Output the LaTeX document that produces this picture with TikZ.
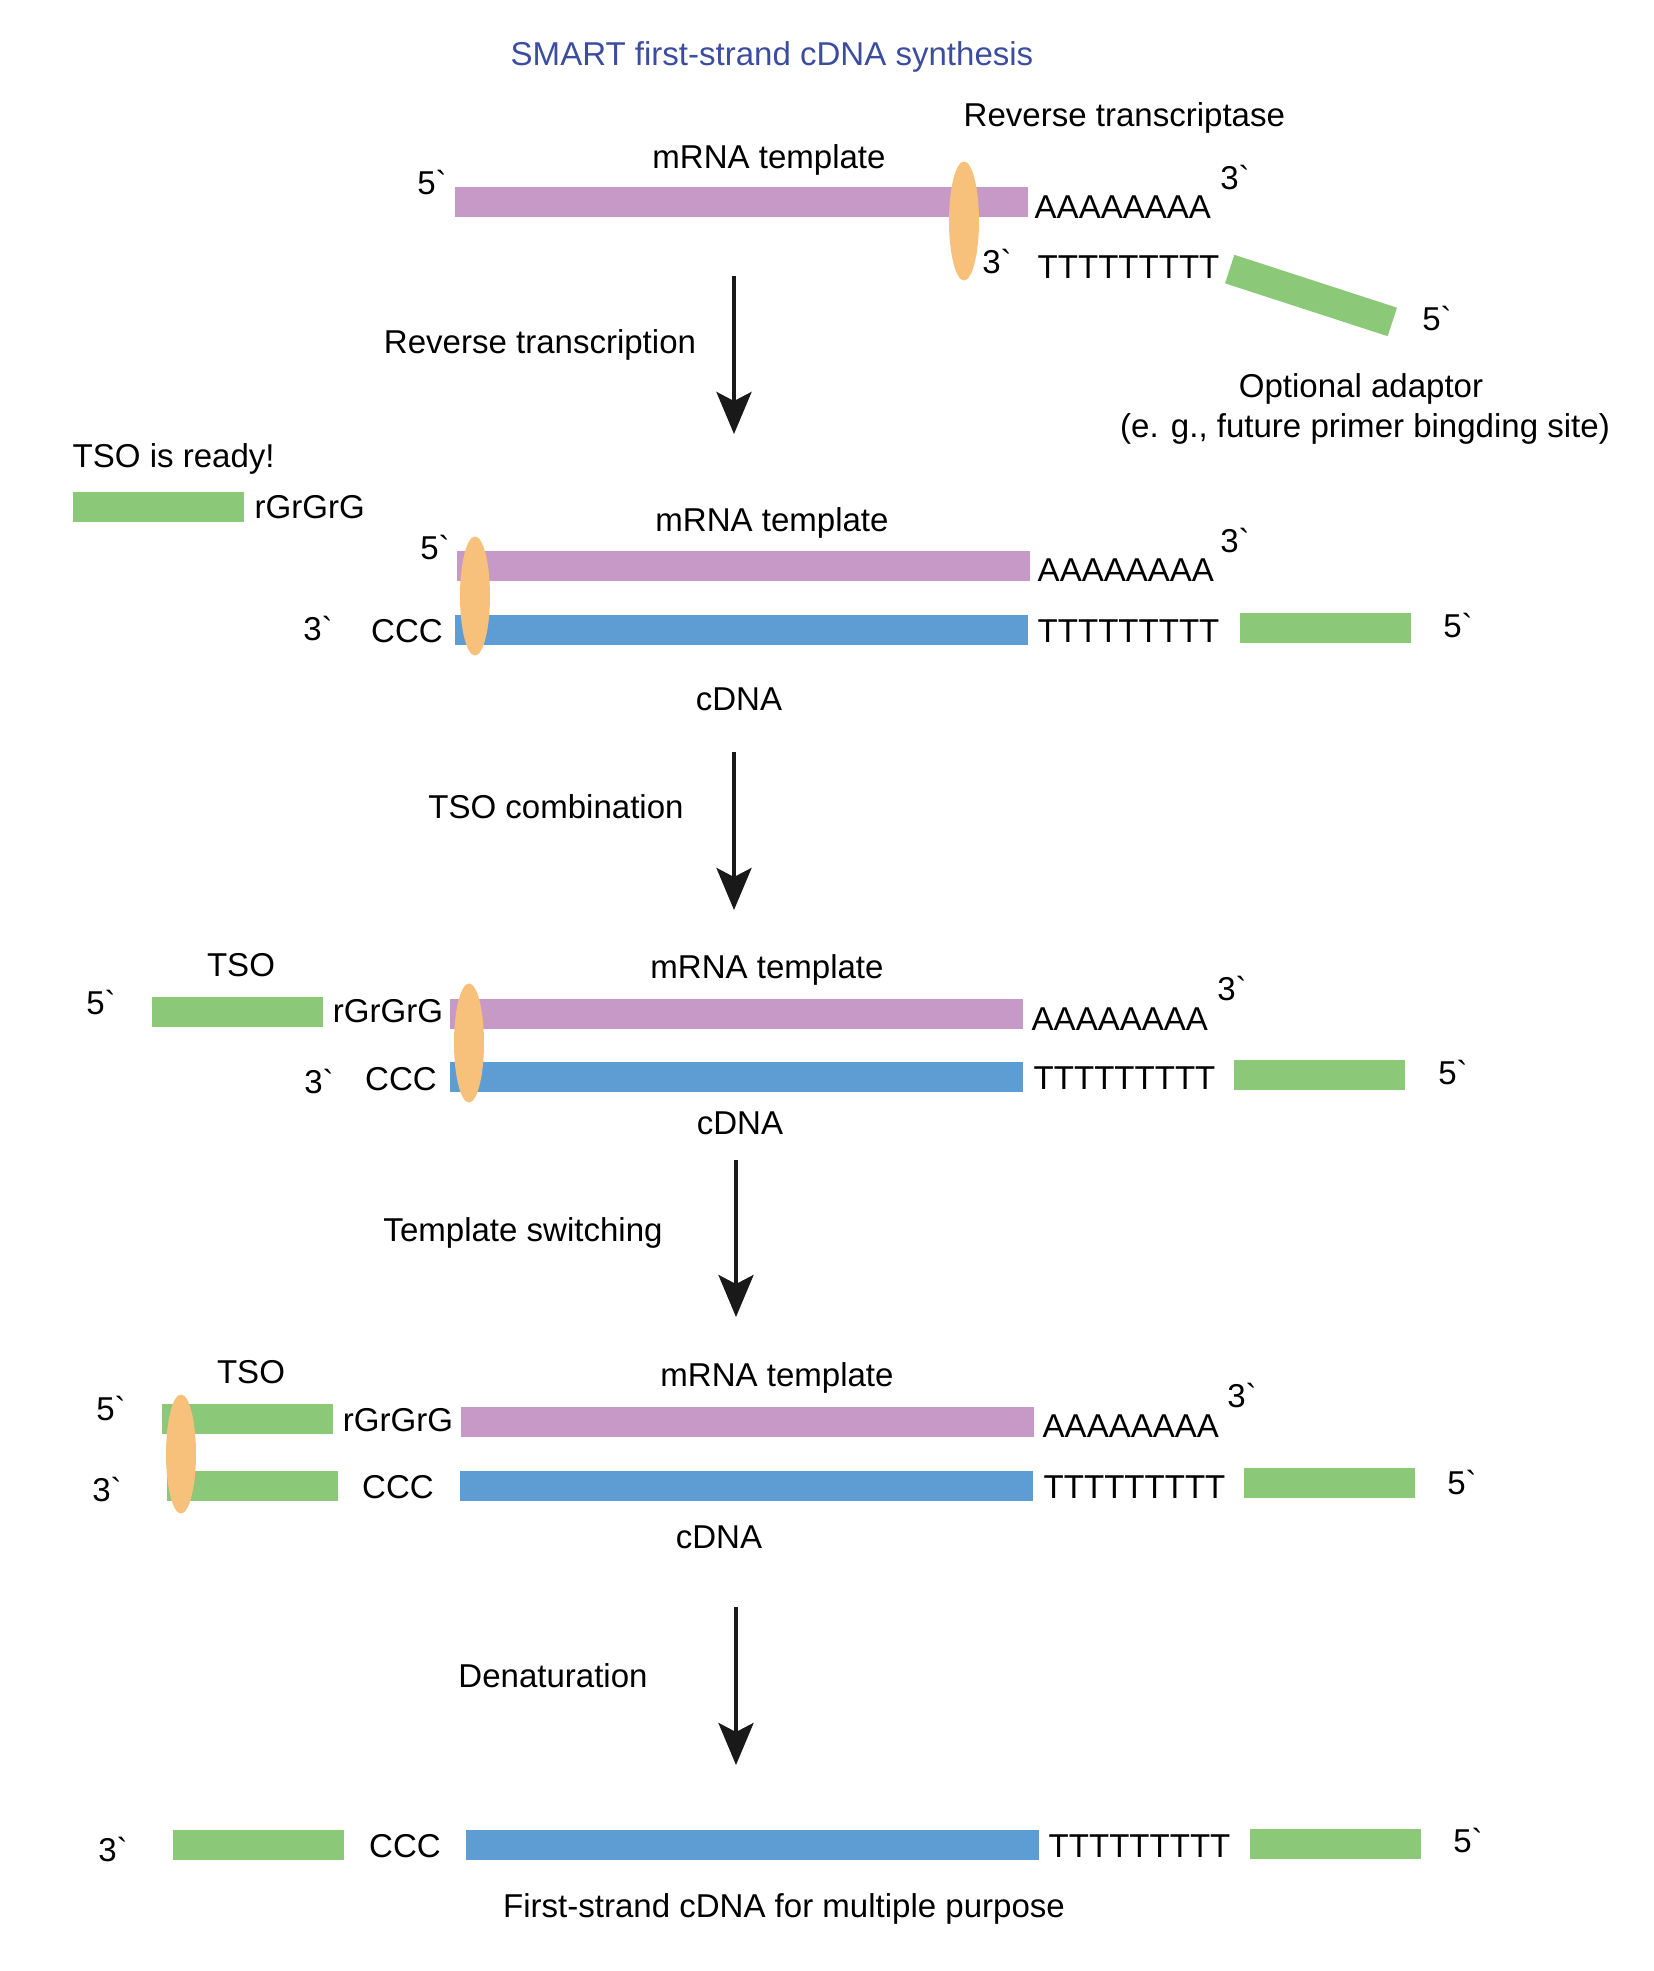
\documentclass[tikz,border=0pt]{standalone}
\usepackage{fontspec}
\newfontfamily\diagfont{Liberation Sans}[Ligatures=TeXOff]
\usepackage{xcolor}
\usepackage{tikz}
\usetikzlibrary{shapes.geometric,arrows.meta,positioning}

\definecolor{mrnapurple}{HTML}{C799C6}
\definecolor{cdnablue}{HTML}{5E9DD3}
\definecolor{adaptgreen}{HTML}{8BC878}
\definecolor{rtorange}{HTML}{F7C07B}
\definecolor{titleblue}{HTML}{3C4DA0}

\begin{document}
\begin{tikzpicture}[
    font=\diagfont\fontsize{9.4}{11.3}\selectfont,
    strand/.style={rectangle, inner sep=0pt, minimum height=0.30cm, anchor=west},
    mrna/.style={strand, fill=mrnapurple, minimum width=5.73cm},
    cdna/.style={strand, fill=cdnablue, minimum width=5.73cm},
    adaptor/.style={strand, fill=adaptgreen, minimum width=1.71cm},
    enzyme/.style={ellipse, fill=rtorange, inner sep=0pt, minimum width=0.30cm, minimum height=1.19cm},
    txt/.style={inner sep=0pt, anchor=base},
    txtw/.style={inner sep=0pt, anchor=base west},
    steparrow/.style={-{Stealth[length=4.2mm, width=3.5mm, inset=0.9mm]}, line width=1.15pt, black!90}
]
\useasboundingbox (0,0) rectangle (16.54,-19.71);

% === Title ===
\node[txt, text=titleblue] (title) at (7.72,-0.65) {SMART first-strand cDNA synthesis};

% === Step 1: primer on the poly(A) tail ===
\node[txtw] (rtname) at (9.63,-1.26) {Reverse transcriptase};
\node[txt] (mlab1) at (7.69,-1.68) {mRNA template};
\node[txt] (m5a) at (4.32,-1.94) {5`};
\node[mrna] (m1) at (4.54,-2.02) {};
\node[txtw] (polya1) at (10.34,-2.18) {AAAAAAAA};
\node[txt] (m3a) at (12.35,-1.89) {3`};
\node[txtw] (polyt1) at (10.37,-2.78) {TTTTTTTTT};
\node[txt] (p3a) at (9.97,-2.73) {3`};
\node[adaptor, anchor=center, rotate=-18] (ad1) at (13.11,-2.955) {};
\node[txt] (p5a) at (14.37,-3.30) {5`};
\node[enzyme] (rt1) at (9.64,-2.21) {};
\node[txt] (adlab) at (13.61,-3.97) {Optional adaptor};
\node[txt] (adnote) at (13.65,-4.37) {(e. g., future primer bingding site)};

% === Step 2: first strand made ===
\node[txtw] (tsoready) at (0.72,-4.67) {TSO is ready!};
\node[adaptor] (tso0) at (0.72,-5.065) {};
\node[txtw] (rg0) at (2.54,-5.18) {rGrGrG};
\node[txt] (mlab2) at (7.72,-5.31) {mRNA template};
\node[txt] (m5b) at (4.35,-5.59) {5`};
\node[txt] (m3b) at (12.35,-5.52) {3`};
\node[mrna] (m2) at (4.56,-5.66) {};
\node[txtw] (polya2) at (10.37,-5.81) {AAAAAAAA};
\node[txt] (c3b) at (3.18,-6.40) {3`};
\node[txt] (ccc2) at (4.07,-6.42) {CCC};
\node[cdna] (c2) at (4.54,-6.30) {};
\node[txtw] (polyt2) at (10.37,-6.42) {TTTTTTTTT};
\node[adaptor] (ad2) at (12.39,-6.28) {};
\node[txt] (c5b) at (14.58,-6.37) {5`};
\node[txt] (clab2) at (7.39,-7.10) {cDNA};
\node[enzyme] (rt2) at (4.75,-5.96) {};

% === Step 3: TSO binds the CCC overhang ===
\node[txt] (tsolab3) at (2.41,-9.76) {TSO};
\node[txt] (mlab3) at (7.67,-9.78) {mRNA template};
\node[txt] (t5c) at (1.01,-10.14) {5`};
\node[adaptor] (tso3) at (1.51,-10.12) {};
\node[txt] (rg3) at (3.88,-10.22) {rGrGrG};
\node[mrna] (m3) at (4.49,-10.14) {};
\node[txt] (m3c) at (12.32,-10.00) {3`};
\node[txtw] (polya3) at (10.31,-10.30) {AAAAAAAA};
\node[txt] (c3c) at (3.19,-10.93) {3`};
\node[txt] (ccc3) at (4.01,-10.90) {CCC};
\node[cdna] (c3) at (4.49,-10.77) {};
\node[txtw] (polyt3) at (10.33,-10.89) {TTTTTTTTT};
\node[adaptor] (ad3) at (12.33,-10.745) {};
\node[txt] (c5c) at (14.53,-10.84) {5`};
\node[txt] (clab3) at (7.40,-11.34) {cDNA};
\node[enzyme] (rt3) at (4.69,-10.43) {};

% === Step 4: RT copies the TSO ===
\node[txt] (tsolab4) at (2.51,-13.83) {TSO};
\node[txt] (mlab4) at (7.77,-13.86) {mRNA template};
\node[txt] (t5d) at (1.11,-14.20) {5`};
\node[adaptor] (tso4) at (1.61,-14.19) {};
\node[txt] (rg4) at (3.98,-14.31) {rGrGrG};
\node[mrna] (m4) at (4.60,-14.215) {};
\node[txt] (m3d) at (12.42,-14.07) {3`};
\node[txtw] (polya4) at (10.42,-14.37) {AAAAAAAA};
\node[txt] (c3d) at (1.07,-15.01) {3`};
\node[adaptor] (ext4) at (1.66,-14.855) {};
\node[txt] (ccc4) at (3.98,-14.98) {CCC};
\node[cdna] (c4) at (4.59,-14.855) {};
\node[txtw] (polyt4) at (10.43,-14.98) {TTTTTTTTT};
\node[adaptor] (ad4) at (12.43,-14.825) {};
\node[txt] (c5d) at (14.62,-14.94) {5`};
\node[txt] (clab4) at (7.19,-15.48) {cDNA};
\node[enzyme] (rt4) at (1.81,-14.54) {};

% === Step 5: single first strand ===
\node[txt] (c3e) at (1.13,-18.61) {3`};
\node[adaptor] (ext5) at (1.72,-18.45) {};
\node[txt] (ccc5) at (4.05,-18.57) {CCC};
\node[cdna] (c5) at (4.65,-18.45) {};
\node[txtw] (polyt5) at (10.48,-18.57) {TTTTTTTTT};
\node[adaptor] (ad5) at (12.49,-18.44) {};
\node[txt] (c5e) at (14.68,-18.52) {5`};
\node[txt] (final) at (7.84,-19.17) {First-strand cDNA for multiple purpose};

% === Step arrows ===
\foreach \n/\x/\ya/\yb in {1/7.34/-2.76/-4.34, 2/7.34/-7.52/-9.10, 3/7.36/-11.60/-13.17, 4/7.36/-16.07/-17.65} {
    \coordinate (s\n) at (\x,\ya);
    \coordinate (e\n) at (\x,\yb);
    \draw[steparrow] (s\n) -- (e\n);
}
\node[txt] (step1) at (5.40,-3.53) {Reverse transcription};
\node[txt] (step2) at (5.56,-8.18) {TSO combination};
\node[txt] (step3) at (5.23,-12.41) {Template switching};
\node[txt] (step4) at (5.53,-16.87) {Denaturation};

\end{tikzpicture}
\end{document}
